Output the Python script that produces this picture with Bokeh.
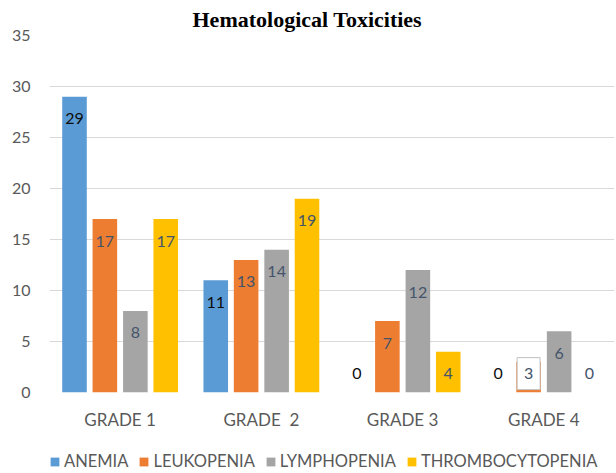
import numpy as np
from bokeh.plotting import figure
from bokeh.layouts import column
from bokeh.models import (Range1d, FixedTicker, Legend, LegendItem, Title,
                          ColumnDataSource)
from bokeh.core.properties import value
from bokeh.embed import file_html
from bokeh.resources import INLINE

# ---- data ----
categories = ["GRADE 1", "GRADE \u00a02", "GRADE 3", "GRADE 4"]
series_names = ["ANEMIA", "LEUKOPENIA", "LYMPHOPENIA", "THROMBOCYTOPENIA"]
anemia = [29, 11, 0, 0]
leukopenia = [17, 13, 7, 3]
lymphopenia = [8, 14, 12, 6]
thrombocytopenia = [17, 19, 4, 0]
y_ticks = [0, 5, 10, 15, 20, 25, 30, 35]

series = [anemia, leukopenia, lymphopenia, thrombocytopenia]
colors = ["#5B9BD5", "#ED7D31", "#A5A5A5", "#FFC000"]
label_colors = ["#0D0D0D", "#44546A", "#44546A", "#44546A"]
offsets = [-0.323, -0.108, 0.108, 0.323]
bar_w = 0.174
FONT = "Lato"
PX_PER_UNIT = 358 / 35.0
LABEL_DROP = 22 / PX_PER_UNIT  # label sits this far below the bar top

p = figure(width=616, height=440, output_backend="svg", toolbar_location=None,
           x_range=Range1d(0, 4), y_range=Range1d(0, 35),
           min_border_left=49, min_border_right=2, min_border_top=34,
           min_border_bottom=48)
p.outline_line_color = None
p.background_fill_color = "white"

p.title = Title(text="Hematological Toxicities", align="left",
                text_font="Liberation Serif", text_font_size="22px",
                text_font_style="bold", text_color="#000000", offset=143,
                standoff=8)

centers = np.arange(len(categories)) + 0.5
for k, (name, vals) in enumerate(zip(series_names, series)):
    xs = centers + offsets[k]
    src = ColumnDataSource(dict(x=xs, top=vals,
                                ly=[max(v, 4) - LABEL_DROP for v in vals],
                                txt=[str(v) for v in vals]))
    p.vbar(x="x", top="top", width=bar_w, source=src,
           fill_color=colors[k], line_color=None)
    if name == "LEUKOPENIA":
        bsrc = ColumnDataSource(dict(x=[xs[3]], y=[max(vals[3], 4) - LABEL_DROP]))
        p.rect(x="x", y="y", width=23, height=32, width_units="screen",
               height_units="screen", source=bsrc, fill_color="white",
               line_color="#BFBFBF", line_width=1)
    p.text(x="x", y="ly", text="txt", source=src, text_align="center",
           text_baseline="middle", text_font=value(FONT),
           text_font_size="16px", text_color=label_colors[k])

# axes
p.xaxis.ticker = FixedTicker(ticks=list(centers))
p.xaxis.major_label_overrides = {float(c): lab for c, lab in zip(centers, categories)}
p.xaxis.axis_line_color = None
p.xaxis.major_tick_line_color = None
p.xaxis.minor_tick_line_color = None
p.xaxis.major_label_standoff = 10
p.xaxis.major_label_text_font = FONT
p.xaxis.major_label_text_font_size = "17px"
p.xaxis.major_label_text_color = "#595959"

p.yaxis.ticker = FixedTicker(ticks=y_ticks)
p.yaxis.axis_line_color = None
p.yaxis.major_tick_line_color = None
p.yaxis.minor_tick_line_color = None
p.yaxis.major_label_standoff = 13
p.yaxis.major_label_text_font = FONT
p.yaxis.major_label_text_font_size = "16px"
p.yaxis.major_label_text_color = "#595959"

p.xgrid.grid_line_color = None
p.ygrid.grid_line_color = "#D9D9D9"
p.ygrid.grid_line_width = 1

# legend strip (own small figure so the legend is never clipped);
# the proxy bars use the real data but lie far outside this strip's y range
lg = figure(width=616, height=33, output_backend="svg", toolbar_location=None,
            x_axis_type=None, y_axis_type=None, min_border=0,
            x_range=Range1d(0, 4), y_range=Range1d(1000, 1001))
lg.outline_line_color = None
lg.grid.grid_line_color = None
items = []
for k, (name, vals) in enumerate(zip(series_names, series)):
    r = lg.vbar(x=centers + offsets[k], top=vals, width=bar_w,
                fill_color=colors[k], line_color=None)
    items.append(LegendItem(label=name, renderers=[r]))
legend = Legend(items=items, orientation="horizontal",
                location=(0, 2), glyph_width=11, glyph_height=11,
                label_standoff=4, spacing=10, padding=0, margin=0,
                label_text_font=FONT, label_text_font_size="16.5px",
                label_text_color="#595959", border_line_color=None,
                background_fill_alpha=0)
lg.add_layout(legend, "center")

layout = column(p, lg, spacing=0)
open("out.html", "w").write(file_html(layout, INLINE))
